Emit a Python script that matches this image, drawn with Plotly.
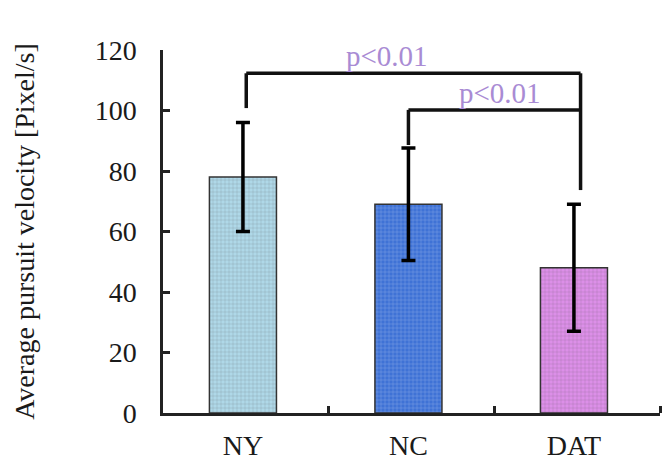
import plotly.graph_objects as go

categories = ["NY", "NC", "DAT"]
means = [78, 69, 48]
sds = [18, 18.6, 21]
bar_colors = ["#AFD8E8", "#3F72D6", "#DC8FE8"]
pattern_colors = ["#E2F1F7", "#8FB0EC", "#F2CDF6"]
y_ticks = [0, 20, 40, 60, 80, 100, 120]

# significance brackets: (left index, right index, height, left-leg bottom, right-leg bottom)
bracket_big = (0, 2, 112.3, 100.8, 73.7)
bracket_small = (1, 2, 100.2, 88.6, 100.2)
p_labels = ["p<0.01", "p<0.01"]
p_label_pos = [(0.868, 117.9), (1.553, 105.8)]

FONT = "Liberation Serif, Times New Roman, serif"
x_idx = list(range(len(categories)))

fig = go.Figure()
fig.add_trace(go.Bar(
    x=x_idx, y=means, width=0.405,
    marker=dict(color=bar_colors,
                line=dict(color="#333333", width=1.5),
                pattern=dict(shape="+", bgcolor=bar_colors, fgcolor=pattern_colors,
                             fgopacity=0.6, size=4, solidity=0.12)),
    error_y=dict(type="data", array=sds, visible=True, color="black", thickness=3.5, width=7),
    showlegend=False,
))

line_style = dict(color="#111111", width=3.5)
rx = 0.04
for (a, b, h, lb, rb) in [bracket_big, bracket_small]:
    xa = a + (0.02 if a == 0 else 0.0)
    xb = b + rx
    fig.add_shape(type="line", x0=xa, x1=xa, y0=lb, y1=h, line=line_style, layer="above")
    fig.add_shape(type="line", x0=xa, x1=xb, y0=h, y1=h, line=line_style, layer="above")
    if rb < h:
        fig.add_shape(type="line", x0=xb, x1=xb, y0=rb, y1=h, line=line_style, layer="above")

for txt, (px, py) in zip(p_labels, p_label_pos):
    fig.add_annotation(x=px, y=py, text=txt, showarrow=False,
                       font=dict(family=FONT, size=29, color="#A98BD4"))

fig.update_layout(
    width=669, height=461,
    margin=dict(l=163, r=9, t=50, b=48),
    plot_bgcolor="white", paper_bgcolor="white",
    font=dict(family=FONT, size=28, color="#1a1a1a"),
)
fig.update_xaxes(
    range=[-0.483, 2.52], tickvals=x_idx, ticktext=categories, ticks="",
    showline=True, linecolor="#222222", linewidth=2.5, showgrid=False, zeroline=False,
    ticklabelstandoff=6, automargin=False,
    minor=dict(tickmode="array", tickvals=[0.515, 1.517, 2.52], ticks="inside",
               ticklen=7, tickwidth=2.5, tickcolor="#222222", showgrid=False),
)
fig.update_yaxes(
    range=[0, 120], tickvals=y_ticks, ticks="inside", ticklen=7, tickwidth=2.5,
    tickcolor="#222222", showline=True, linecolor="#222222", linewidth=2.5,
    showgrid=False, zeroline=False, ticklabelstandoff=18, automargin=False,
    title=dict(text="Average pursuit velocity [Pixel/s]", font=dict(size=28), standoff=52),
)

fig.write_html("out.html")
